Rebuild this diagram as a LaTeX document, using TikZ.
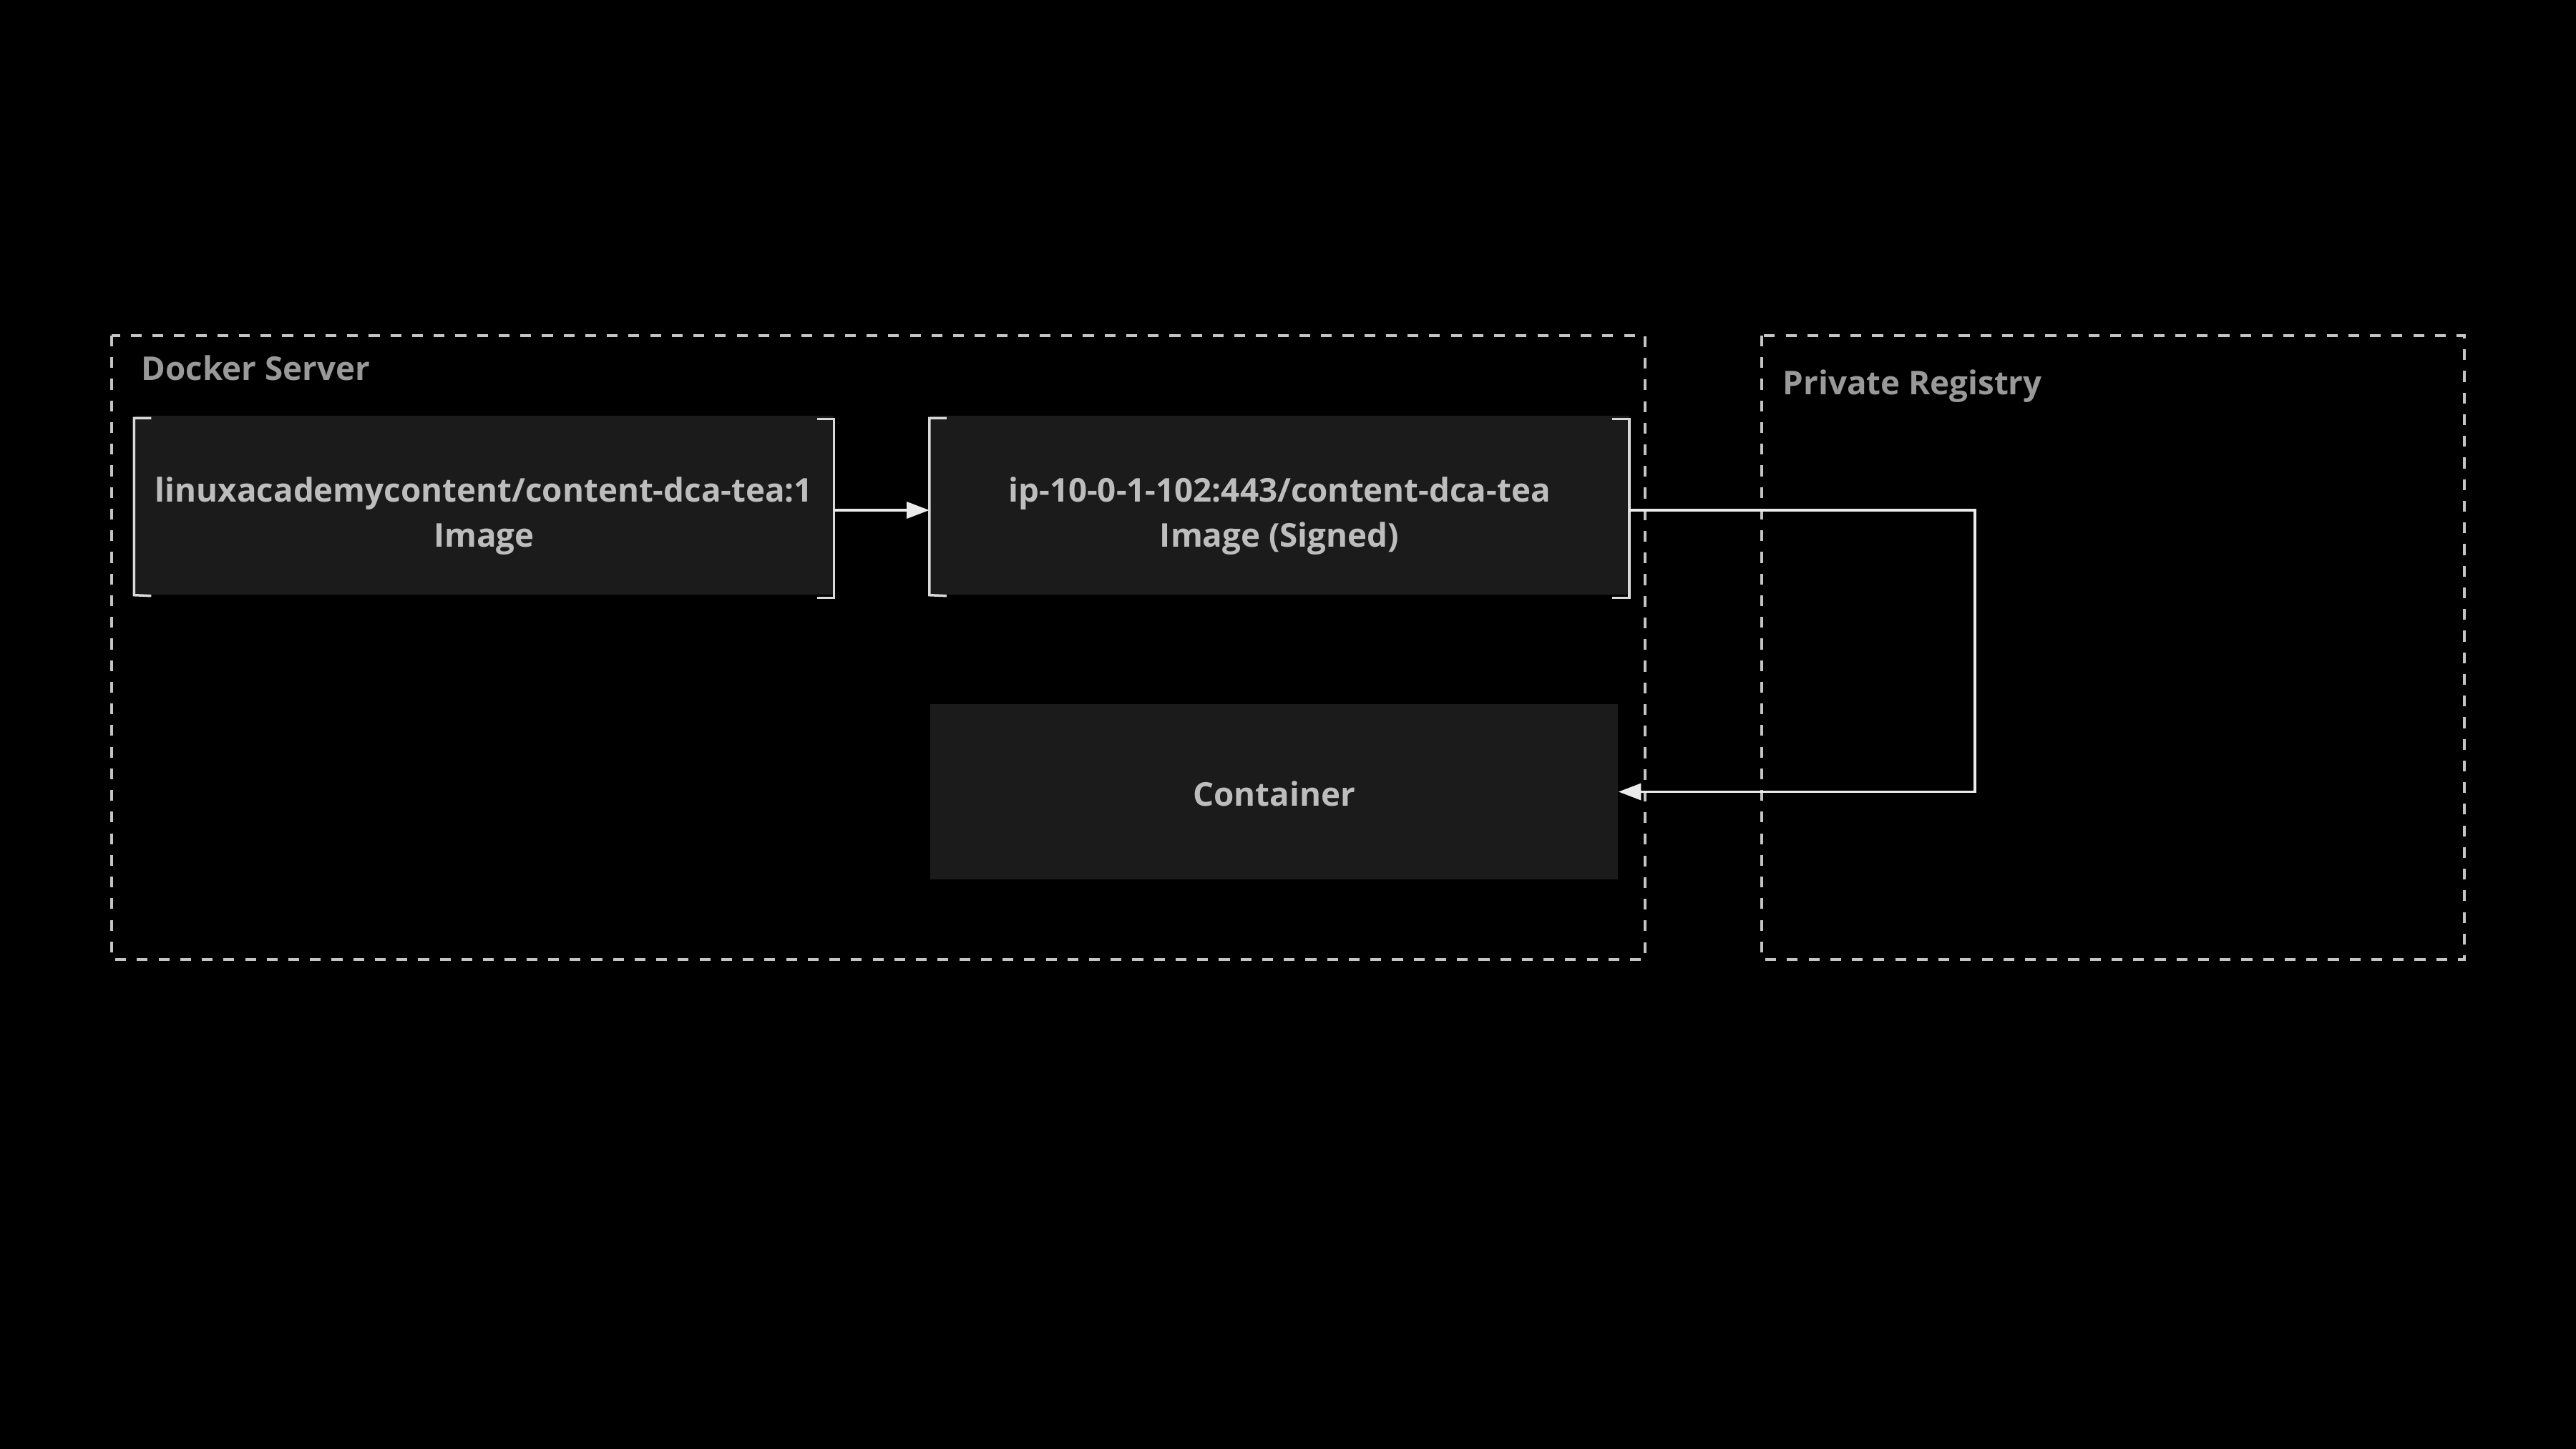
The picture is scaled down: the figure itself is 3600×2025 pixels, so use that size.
\documentclass[tikz,border=0pt]{standalone}
\usepackage{fontspec}
\setmainfont{Open Sans}
\usetikzlibrary{arrows.meta}
\definecolor{boxfill}{HTML}{1B1B1B}
\definecolor{boxtext}{HTML}{BDBDBD}
\definecolor{labeltext}{HTML}{999999}
\definecolor{frameline}{HTML}{C4C4C4}
\definecolor{connline}{HTML}{EBEBEB}
\definecolor{bracketline}{HTML}{D9D9D9}
\tikzset{
  frame/.style={draw=frameline, line width=1pt, dash pattern=on 4.3pt off 4.3pt},
  grouplabel/.style={text=labeltext, font=\fontsize{13}{18}\selectfont\bfseries, inner sep=0pt},
  boxnode/.style={fill=boxfill, inner sep=0pt},
  boxtext/.style={text=boxtext, font=\fontsize{13}{18}\selectfont\bfseries, align=center, inner sep=0pt},
  bracketline/.style={draw=bracketline, line width=1pt},
  conn/.style={draw=connline, line width=1.1pt, -{Triangle[length=9pt,width=6.5pt]}}
}
\begin{document}
\begin{tikzpicture}[x=0.01cm, y=-0.01cm]
\fill[black] (0,0) rectangle (3600,2025);
\useasboundingbox (0,0) rectangle (3600,2025);
% group frames
\draw[frame] (156,469) rectangle (2299,1341);
\draw[frame] (2462,469) rectangle (3444,1341);
\node[grouplabel, anchor=base west] (dockerlabel) at (197,532) {Docker Server};
\node[grouplabel, anchor=base west] (registrylabel) at (2491,552) {Private Registry};
% boxes
\node[boxnode, minimum width=977*0.01cm, minimum height=250*0.01cm,
  label={[boxtext, name=img1text, yshift=-15*0.01cm]center:linuxacademycontent/content-dca-tea:1\\Image}] (img1) at (676.5,706) {};
\node[boxnode, minimum width=977*0.01cm, minimum height=250*0.01cm,
  label={[boxtext, name=img2text, yshift=-15*0.01cm]center:ip-10-0-1-102:443/content-dca-tea\\Image (Signed)}] (img2) at (1788,706) {};
\node[boxnode, minimum width=961*0.01cm, minimum height=245*0.01cm,
  label={[boxtext, name=conttext, yshift=-3*0.01cm]center:Container}] (cont) at (1780.5,1106.5) {};
% brackets
\foreach \n in {img1,img2}{
  \draw[bracketline] ([shift={(24,4)}]\n.north west) -- ([shift={(0,4)}]\n.north west) -- (\n.south west) -- ([shift={(24,1)}]\n.south west);
  \draw[bracketline] ([shift={(-24,5)}]\n.north east) -- ([shift={(0,5)}]\n.north east) -- ([shift={(0,4)}]\n.south east) -- ([shift={(-24,4)}]\n.south east);
}
% connectors
\draw[conn] ([yshift=-7*0.01cm]img1.east) -- ([yshift=-7*0.01cm]img2.west);
\coordinate (bend) at (2760,713);
\draw[conn] ([yshift=-7*0.01cm]img2.east) -- (bend) |- (cont.east);
\end{tikzpicture}
\end{document}
